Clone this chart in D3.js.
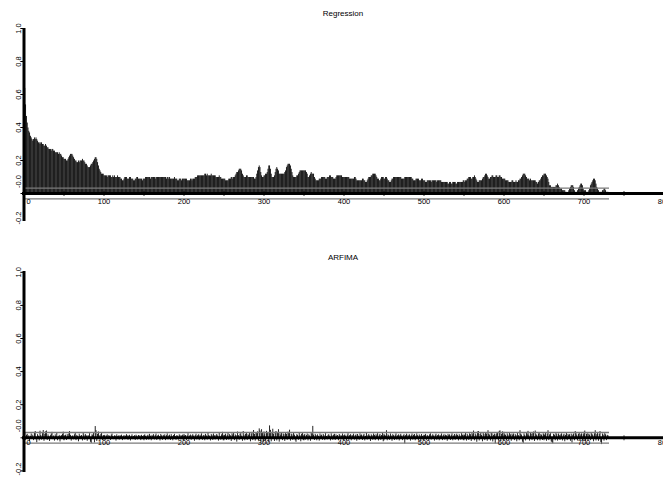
<!DOCTYPE html>
<html>
<head>
<meta charset="utf-8">
<script src="https://cdn.jsdelivr.net/npm/d3@7"></script>
<style>
  html, body { margin: 0; padding: 0; background: #fff; }
  svg { display: block; }
  text { font-family: "Liberation Sans", Arial, sans-serif; fill: #000; }
</style>
</head>
<body>
<svg id="chart" width="663" height="477"></svg>
<script>
// Sample autocorrelations of the residuals, lags 1..730
const panelTitles = ["Regression", "ARFIMA"];
const yTickValues = [1.0, 0.8, 0.6, 0.4, 0.2, 0.0, -0.2];
const yTickLabels = ["1.0", "0.8", "0.6", "0.4", "0.2", "-0.0", "-0.2"];
const xTickValues = [0, 100, 200, 300, 400, 500, 600, 700, 800];
const confBand = 0.032;

const acfRegression = [
 .64,.54,.47,.43,.40,.38,.37,.35,.34,.33,
 .32,.33,.34,.33,.34,.33,.32,.31,.31,.30,
 .31,.31,.30,.30,.29,.29,.30,.29,.28,.28,
 .27,.27,.27,.26,.27,.27,.26,.26,.25,.25,
 .25,.25,.24,.25,.24,.24,.23,.22,.22,.21,
 .21,.21,.20,.20,.21,.22,.23,.24,.24,.24,
 .23,.22,.21,.20,.20,.19,.19,.20,.19,.20,
 .20,.20,.21,.20,.20,.19,.18,.18,.17,.16,
 .16,.16,.17,.18,.18,.19,.20,.21,.22,.22,
 .21,.19,.17,.15,.14,.13,.12,.12,.12,.11,
 .11,.11,.11,.10,.11,.11,.11,.11,.10,.10,
 .11,.10,.11,.10,.10,.10,.11,.10,.10,.10,
 .09,.09,.08,.08,.09,.10,.10,.10,.09,.09,
 .09,.10,.10,.09,.09,.09,.08,.08,.09,.09,
 .10,.10,.09,.09,.09,.09,.09,.08,.09,.09,
 .09,.10,.10,.10,.10,.10,.10,.09,.10,.10,
 .10,.10,.10,.09,.10,.10,.10,.10,.10,.10,
 .10,.10,.10,.10,.10,.10,.10,.09,.10,.10,
 .09,.10,.09,.09,.09,.09,.09,.10,.09,.09,
 .09,.08,.08,.09,.09,.09,.08,.09,.09,.09,
 .09,.09,.09,.08,.08,.08,.08,.09,.09,.08,
 .09,.09,.09,.10,.10,.10,.11,.11,.11,.11,
 .11,.11,.11,.11,.11,.12,.12,.11,.12,.11,
 .11,.11,.11,.12,.11,.11,.11,.11,.11,.10,
 .10,.10,.10,.11,.10,.10,.09,.09,.09,.09,
 .09,.08,.08,.08,.08,.09,.09,.09,.10,.10,
 .09,.10,.10,.11,.12,.13,.13,.14,.15,.15,
 .15,.14,.12,.11,.10,.10,.10,.11,.11,.10,
 .10,.10,.10,.10,.10,.10,.10,.09,.09,.10,
 .12,.14,.16,.17,.16,.13,.11,.10,.10,.11,
 .11,.12,.12,.13,.15,.17,.17,.15,.12,.10,
 .10,.10,.11,.13,.15,.16,.15,.14,.12,.12,
 .12,.12,.12,.12,.12,.13,.14,.16,.17,.18,
 .18,.18,.17,.15,.13,.11,.10,.10,.10,.10,
 .11,.11,.12,.13,.14,.14,.14,.14,.14,.14,
 .14,.14,.13,.12,.10,.10,.11,.12,.13,.12,
 .12,.12,.10,.09,.08,.08,.08,.08,.09,.09,
 .09,.10,.10,.10,.10,.10,.09,.09,.10,.10,
 .10,.11,.11,.10,.10,.10,.09,.09,.09,.10,
 .11,.11,.11,.11,.11,.11,.11,.10,.10,.10,
 .10,.10,.10,.10,.10,.10,.09,.09,.09,.09,
 .09,.09,.10,.10,.09,.08,.08,.08,.08,.08,
 .08,.08,.09,.09,.08,.08,.07,.07,.08,.09,
 .10,.10,.10,.11,.11,.12,.12,.12,.12,.11,
 .10,.09,.09,.08,.08,.09,.10,.10,.10,.09,
 .09,.10,.10,.09,.08,.08,.07,.07,.08,.09,
 .09,.10,.10,.10,.10,.10,.10,.10,.10,.10,
 .10,.09,.09,.09,.09,.10,.10,.10,.10,.10,
 .10,.10,.10,.10,.09,.09,.08,.08,.08,.09,
 .09,.09,.09,.08,.08,.08,.09,.09,.08,.08,
 .08,.07,.07,.08,.08,.08,.08,.08,.07,.08,
 .08,.08,.08,.08,.08,.07,.08,.08,.08,.08,
 .08,.07,.07,.07,.07,.07,.07,.07,.07,.06,
 .06,.07,.07,.06,.06,.07,.07,.07,.07,.06,
 .06,.07,.07,.07,.07,.07,.07,.07,.08,.08,
 .07,.08,.08,.09,.09,.10,.10,.10,.09,.09,
 .10,.10,.11,.10,.09,.08,.07,.07,.08,.08,
 .08,.08,.09,.10,.10,.11,.12,.12,.11,.10,
 .09,.09,.10,.10,.11,.11,.10,.10,.10,.11,
 .11,.10,.10,.11,.11,.10,.10,.09,.09,.09,
 .09,.08,.08,.08,.08,.07,.07,.07,.07,.08,
 .08,.07,.07,.07,.08,.07,.07,.08,.08,.09,
 .09,.10,.11,.12,.12,.12,.11,.10,.09,.09,
 .09,.08,.09,.08,.08,.08,.08,.08,.08,.07,
 .07,.06,.07,.08,.08,.09,.10,.11,.11,.12,
 .12,.12,.11,.10,.09,.07,.05,.05,.04,.04,
 .04,.04,.04,.04,.05,.05,.06,.05,.04,.03,
 .03,.03,.02,.02,.02,.02,.01,.01,.00,.01,
 .02,.03,.04,.05,.05,.05,.04,.02,.01,.01,
 .01,.02,.03,.04,.05,.06,.06,.05,.03,.02,
 .02,.02,.01,.01,.01,.02,.03,.05,.06,.07,
 .08,.09,.09,.08,.06,.04,.03,.02,.01,.01,
 .01,.01,.02,.02,.03,.03,.02,.01,.01,.01
];

const acfArfima = [
 .031,-.012,.018,.024,-.008,.015,-.021,.012,.026,-.005,
 .019,-.014,.035,.041,-.009,-.027,.022,.013,-.016,.043,
 .017,-.011,.028,.047,-.018,.024,.039,.044,-.013,.021,
 .012,-.019,.016,.025,.036,-.008,.014,-.017,.021,.011,
 .031,-.015,.009,.018,-.022,.013,.016,.024,.037,-.011,
 .014,.019,-.013,.022,.011,.026,.041,.018,-.017,.012,
 .015,-.009,.021,.033,-.014,.018,.012,-.021,.025,.014,
 .011,.017,-.016,.035,.019,-.012,.022,.014,-.018,.016,
 .013,.028,-.024,-.031,.021,.018,.034,-.028,.071,.046,
 -.019,.024,.038,.015,-.012,.022,.029,-.014,.017,.012,
 .018,-.011,.014,.021,-.009,.016,.012,-.013,.019,.026,
 .011,-.008,.015,.013,-.017,.021,.009,.014,-.011,.016,
 .012,.019,-.014,.011,.017,-.009,.013,.022,.015,-.012,
 .014,.018,-.016,.012,.021,-.008,.011,.016,-.013,.019,
 .013,-.010,.017,.012,.015,-.014,.018,.011,-.009,.016,
 .021,.012,-.012,.015,.019,-.011,.024,.013,-.015,.018,
 .012,.022,-.010,.017,.026,-.013,.014,.019,.011,-.016,
 .023,.015,-.012,.018,.013,.021,-.014,.016,.027,-.010,
 .014,.019,-.013,.022,.012,-.015,.017,.024,.011,-.012,
 .016,.013,-.011,.021,.018,-.009,.014,.019,-.016,.023,
 .012,.017,-.013,.015,.028,-.011,.014,.020,-.012,.016,
 .022,.013,-.018,.017,.025,-.010,.015,.021,-.014,.019,
 .013,.027,-.012,.016,.018,-.015,.024,.014,-.011,.031,
 .017,.012,-.016,.022,.019,-.013,.026,.015,-.010,.018,
 .023,.014,-.017,.029,.012,-.012,.021,.036,-.015,.019,
 .016,.025,-.013,.018,.031,-.011,.022,.015,-.019,.027,
 .019,.034,-.014,.021,.017,-.023,.038,.016,-.012,.025,
 .028,.013,-.018,.041,.019,-.015,.024,.031,-.013,.022,
 .017,.029,-.021,.026,.036,-.014,.047,.023,-.017,.032,
 .028,.039,-.016,.057,.044,-.022,.052,.031,-.025,.038,
 .026,-.018,.042,.034,.029,-.027,.075,.048,-.021,.033,
 .055,.024,-.019,.036,.041,-.016,.029,.052,-.023,.027,
 .018,.033,-.014,.026,.022,-.019,.031,.024,-.012,.037,
 .028,.049,-.017,.025,.021,-.013,.032,.019,-.015,-.024,
 .022,.018,-.012,.029,.016,-.021,.024,.033,-.014,.019,
 .023,-.011,.017,.026,-.016,.021,.014,-.018,.031,.024,
 .072,.019,-.013,.024,.017,-.015,.021,.012,-.017,.026,
 .014,.019,-.012,.023,.016,-.014,.028,.011,-.010,.018,
 .022,.013,-.016,.027,.015,-.012,.019,.024,-.013,.021,
 .012,.017,-.015,.023,.018,-.011,.014,.026,-.014,.016,
 .021,.013,-.017,.019,.028,-.012,.016,.022,-.015,.018,
 .014,.025,-.011,.017,.021,-.018,.023,.013,-.012,.027,
 .016,.020,-.013,.018,.024,-.016,.012,.029,-.011,.017,
 .023,.014,-.019,.021,.016,-.012,.026,.018,-.014,.022,
 .015,.028,-.016,.019,.023,-.013,.017,.031,-.021,.024,
 .018,.013,.046,-.015,.021,.017,-.012,.026,.014,-.018,
 .022,.016,-.013,.019,.027,-.011,.015,.021,-.016,.018,
 .024,.013,-.014,.017,.022,-.034,.016,.025,-.012,.019,
 .013,.021,-.017,.016,.026,-.011,.018,.023,-.015,.014,
 .027,.016,-.013,.021,.015,-.018,.023,.012,-.014,.019,
 .016,.024,-.012,.018,.013,-.016,.021,.027,-.011,.015,
 .022,.014,-.017,.019,.025,-.012,.016,.021,-.015,.018,
 .013,.026,-.014,.017,.022,-.011,.019,.015,-.018,.024,
 .016,.021,-.013,.018,.027,-.015,.014,.023,-.012,.019,
 .025,.017,-.016,.022,.014,-.012,.028,.019,-.014,.021,
 .018,.031,-.017,.024,.016,-.013,.027,.022,-.019,.033,
 .021,.044,-.015,.026,.019,-.024,.038,.041,-.016,.023,
 .029,.017,-.021,.034,.022,-.014,.031,.026,-.018,.046,
 .024,.019,-.016,.032,.027,-.022,.018,.025,-.034,.021,
 .028,.033,-.017,.042,.045,-.019,.024,.039,-.015,.036,
 .022,.018,-.016,.027,.019,-.013,.031,.021,-.018,.025,
 .017,.026,-.014,.022,.018,-.021,.029,.016,-.015,.046,
 .024,.019,-.023,-.031,.027,.018,-.016,.033,.021,.042,
 .019,-.017,.034,.025,-.014,.028,.038,-.019,.044,.022,
 .018,-.015,.026,.031,-.016,.022,.019,-.013,.027,.024,
 .017,.033,-.018,.025,.046,-.014,.021,.028,-.022,-.027,
 -.033,.024,.019,-.015,.031,.022,-.017,.026,.018,-.013,
 .021,.027,-.016,.019,.024,-.021,.018,.029,-.014,.023,
 .017,.022,-.018,.025,-.029,.019,.026,-.015,.041,.028,
 .019,-.016,.024,.031,-.013,.021,.027,-.018,.022,.036,
 .044,-.019,.023,.028,-.017,.025,.019,-.014,.031,.024,
 .018,-.021,.027,.046,-.016,.022,.029,-.018,.024,.041,
 -.025,-.038,.026,.019,-.017,.028,.021,-.014,.018,.015
];

const svg = d3.select("#chart");

// shared lag axis
const x = d3.scaleLinear().domain([0, 800]).range([24, 664]);

const panels = [
  { title: panelTitles[0], acf: acfRegression, zeroY: 193.5, oneY: 28.5, axisTop: 28, axisBottom: 221, titleY: 16, xLabelDy: 10.5 },
  { title: panelTitles[1], acf: acfArfima,     zeroY: 437.8, oneY: 272.3, axisTop: 271, axisBottom: 472, titleY: 260, xLabelDy: 7 }
];

panels.forEach(p => {
  const y = d3.scaleLinear().domain([0, 1]).range([p.zeroY, p.oneY]);
  const g = svg.append("g");
  const lags = p.acf.map((v, i) => ({ lag: i + 1, v }));
  const lastLag = lags.length;

  // title
  g.append("text")
    .attr("x", 343).attr("y", p.titleY)
    .attr("text-anchor", "middle")
    .style("font-size", "8px")
    .text(p.title);

  // correlogram bars
  g.append("g").selectAll("rect")
    .data(lags)
    .join("rect")
    .attr("x", d => x(d.lag) - 0.43)
    .attr("width", 0.86)
    .attr("y", d => Math.min(y(d.v), y(0)))
    .attr("height", d => Math.abs(y(d.v) - y(0)))
    .attr("fill", "#000");

  // confidence bands
  [confBand, -confBand].forEach(c => {
    g.append("line")
      .attr("x1", x(0)).attr("x2", x(lastLag) + 1)
      .attr("y1", y(c)).attr("y2", y(c))
      .attr("stroke", "#7a7a7a").attr("stroke-width", 1.3);
  });

  // x axis line and ticks
  g.append("line")
    .attr("x1", x(0) - 2).attr("x2", 663)
    .attr("y1", y(0)).attr("y2", y(0))
    .attr("stroke", "#000").attr("stroke-width", 3);
  g.append("g").selectAll("line")
    .data(d3.range(0, 801, 50))
    .join("line")
    .attr("x1", d => x(d)).attr("x2", d => x(d))
    .attr("y1", y(0) - 2.5).attr("y2", y(0) + 2.5)
    .attr("stroke", "#000").attr("stroke-width", 0.8);
  g.append("g").selectAll("text")
    .data(xTickValues)
    .join("text")
    .attr("x", d => d === 0 ? x(d) + 4.5 : x(d))
    .attr("y", y(0) + p.xLabelDy)
    .attr("text-anchor", "middle")
    .style("font-size", "7.5px")
    .text(d => d);

  // y axis line, ticks and rotated labels
  g.append("line")
    .attr("x1", x(0)).attr("x2", x(0))
    .attr("y1", p.axisTop).attr("y2", p.axisBottom)
    .attr("stroke", "#000").attr("stroke-width", 3);
  g.append("g").selectAll("line")
    .data(yTickValues.filter(v => y(v) <= p.axisBottom))
    .join("line")
    .attr("x1", x(0) - 3.5).attr("x2", x(0))
    .attr("y1", d => y(d)).attr("y2", d => y(d))
    .attr("stroke", "#000").attr("stroke-width", 1);
  g.append("g").selectAll("text")
    .data(yTickValues.map((v, i) => ({ v, label: yTickLabels[i] })))
    .join("text")
    .attr("transform", d => {
      let cy = y(d.v);
      if (d.v === 0) cy -= 12;
      if (cy > p.axisBottom - 3) cy = p.axisBottom - 3;
      return `translate(20.5,${cy}) rotate(-90)`;
    })
    .attr("text-anchor", "middle")
    .style("font-size", "7.5px")
    .text(d => d.label);
});
</script>
</body>
</html>
